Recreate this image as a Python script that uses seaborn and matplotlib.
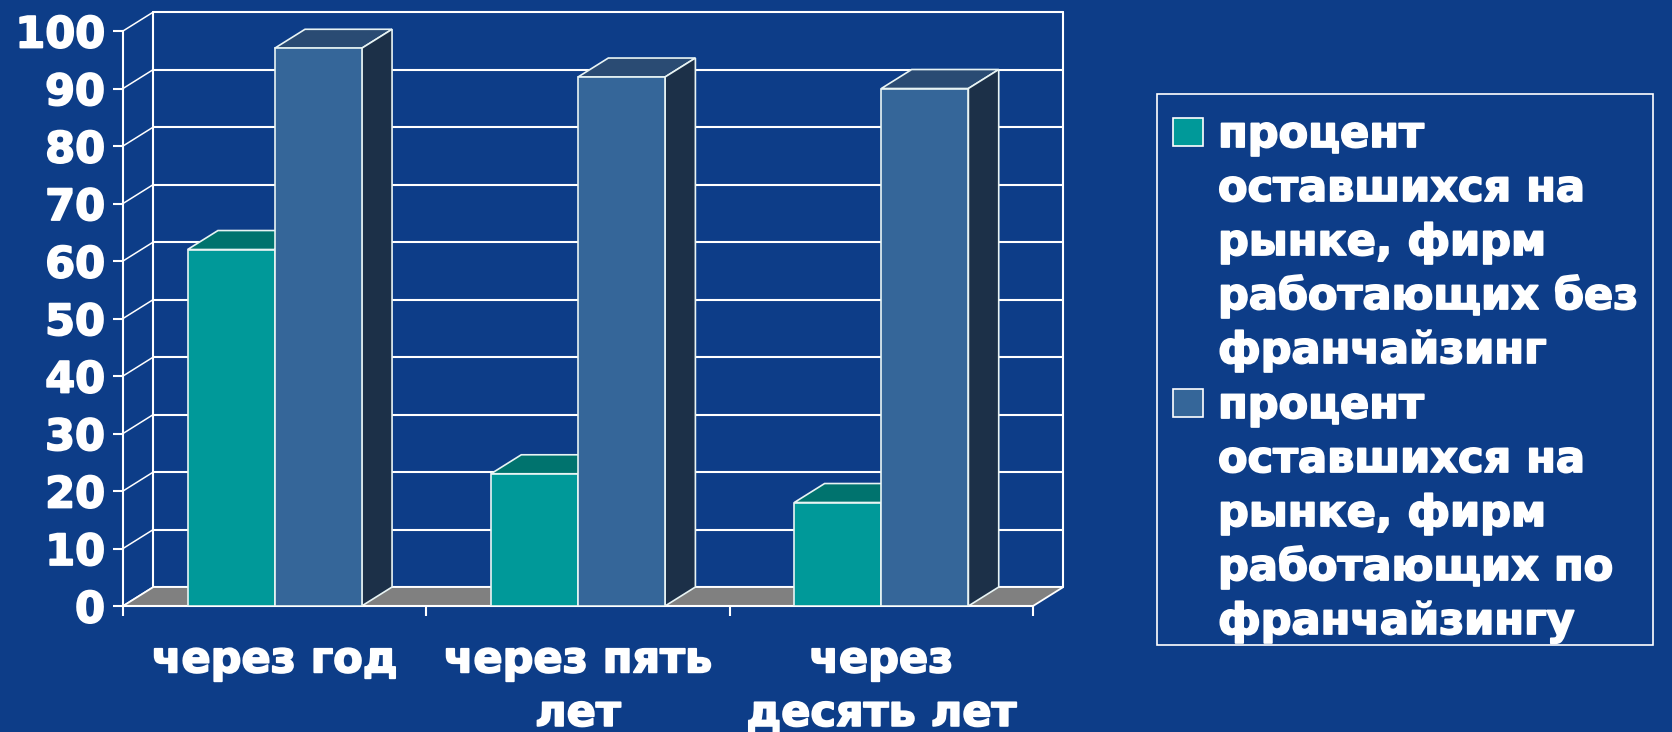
import pandas as pd
import seaborn as sns
import matplotlib.pyplot as plt
import matplotlib.patheffects as pe
from matplotlib.patches import Polygon, Rectangle

periods = ["через год", "через пять\nлет", "через\nдесять лет"]
series_names = ["процент\nоставшихся на\nрынке, фирм\nработающих без\nфранчайзинг",
                "процент\nоставшихся на\nрынке, фирм\nработающих по\nфранчайзингу"]
without_franchise = [62, 23, 18]
with_franchise = [97, 92, 90]
y_ticks = list(range(0, 101, 10))

bg = "#0d3d88"
teal, teal_top = "#009999", "#00736e"
blue, blue_top, blue_side = "#356699", "#2a4b73", "#1c3048"
edge = "#e8f4f4"
W, H = 1672, 732
heavy = [pe.withStroke(linewidth=1.3, foreground="white")]

df = pd.DataFrame({
    "period": periods * 2,
    "series": [series_names[0]] * 3 + [series_names[1]] * 3,
    "value": without_franchise + with_franchise,
})

sns.set_theme(style="white")
plt.rcParams["font.family"] = ["DejaVu Sans"]
plt.rcParams["font.weight"] = "bold"

fig = plt.figure(figsize=(W / 100, H / 100), dpi=100, facecolor=bg)
ax = fig.add_axes([123 / W, 126 / H, 910 / W, 575 / H])
ax.set_facecolor("none")

sns.barplot(data=df, x="period", y="value", hue="series", palette=[teal, blue],
            width=0.574, gap=0, saturation=1, edgecolor=edge, linewidth=1.2,
            legend=False, ax=ax)

ax.set_xlim(-0.5, 2.5)
ax.set_ylim(0, 100)
x0, x1 = -0.5, 2.5
dx, dy = 0.1, 3.3

# back wall, side wall and floor
for v in y_ticks:
    ax.plot([x0 + dx, x1 + dx], [v + dy, v + dy], color="white", lw=1.5, zorder=1, clip_on=False)
    ax.plot([x0, x0 + dx], [v, v + dy], color="white", lw=1.1, zorder=1, clip_on=False)
ax.plot([x0 + dx] * 2, [dy, 100 + dy], color="white", lw=1.5, zorder=1, clip_on=False)
ax.plot([x1 + dx] * 2, [dy, 100 + dy], color="white", lw=1.5, zorder=1, clip_on=False)
ax.add_patch(Polygon([(x0, 0), (x1, 0), (x1 + dx, dy), (x0 + dx, dy)], closed=True,
                     fc="#808080", ec="white", lw=1.3, zorder=1.5, clip_on=False))

# 3d faces of the bars
faces = [(teal_top, teal_top), (blue_top, blue_side)]
for cont, (tc, sc) in zip(ax.containers, faces):
    for bar in cont:
        bar.set_zorder(3)
        x, w, h = bar.get_x(), bar.get_width(), bar.get_height()
        ax.add_patch(Polygon([(x, h), (x + w, h), (x + w + dx, h + dy), (x + dx, h + dy)],
                             closed=True, fc=tc, ec=edge, lw=1.2, zorder=2, clip_on=False))
        ax.add_patch(Polygon([(x + w, 0), (x + w, h), (x + w + dx, h + dy), (x + w + dx, dy)],
                             closed=True, fc=sc, ec=edge, lw=1.2, zorder=2, clip_on=False))

for s in ["top", "right"]:
    ax.spines[s].set_visible(False)
for s in ["left", "bottom"]:
    ax.spines[s].set_color("white")
    ax.spines[s].set_linewidth(1.5)

ax.set_xlabel("")
ax.set_ylabel("")
ax.set_yticks(y_ticks)
ax.tick_params(axis="y", colors="white", length=7, width=1.5, pad=6, labelsize=31, left=True)
ax.set_xticks([-0.5, 0.5, 1.5, 2.5], minor=True)
ax.tick_params(axis="x", which="major", length=0, pad=24, labelsize=31, labelcolor="white")
ax.tick_params(axis="x", which="minor", length=7, width=1.5, color="white", bottom=True)
for t in ax.get_xticklabels():
    t.set_linespacing(1.35)
    t.set_path_effects(heavy)
for t in ax.get_yticklabels():
    t.set_path_effects(heavy)

# legend
fig.add_artist(Rectangle((1157 / W, (H - 645) / H), 496 / W, 551 / H, transform=fig.transFigure,
                         fill=False, ec="white", lw=1.2))
first_lines = [147, 418]
for name, col, base in zip(series_names, [teal, blue], first_lines):
    fig.add_artist(Rectangle((1173 / W, (H - base + 1) / H), 30 / W, 28 / H,
                             transform=fig.transFigure, fc=col, ec="white", lw=1.2))
    for k, line in enumerate(name.split("\n")):
        fig.text(1218 / W, (H - base - 54 * k) / H, line, color="white", fontsize=31,
                 fontweight="bold", va="baseline", ha="left", path_effects=heavy)

fig.savefig("out.png", dpi=100, facecolor=bg)
